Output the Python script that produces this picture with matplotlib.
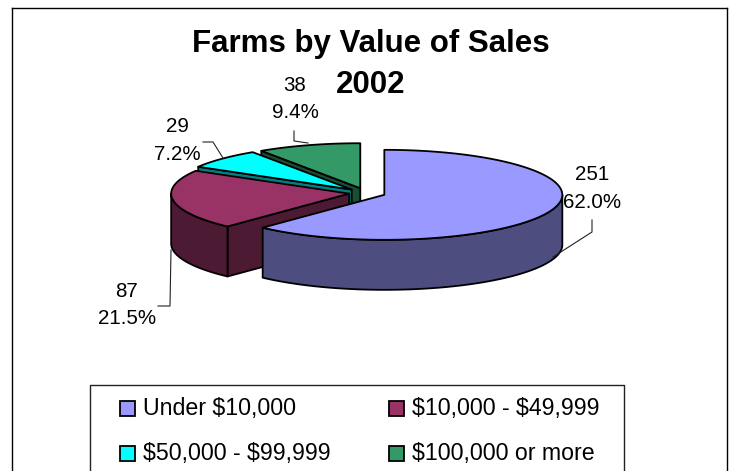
"""Farms by value of sales, 2002 -- exploded 3D pie drawn in pixel coordinates."""
import numpy as np
import matplotlib
matplotlib.use("Agg")
import matplotlib.pyplot as plt
from matplotlib.patches import Polygon, Rectangle

FONT = "Liberation Sans"

categories = ["Under $10,000", "$10,000 - $49,999", "$50,000 - $99,999", "$100,000 or more"]
counts = [251, 87, 29, 38]

top_colors = ["#9999FF", "#993366", "#00FFFF", "#339966"]
side_colors = ["#4D4D80", "#4D1A33", "#008080", "#1A4D33"]

# pie geometry, pixels
CX, CY = 366, 193
RX, RY = 178, 45
DEPTH = 50
explode = [19.7, 17, 19.7, 19.7]

# label anchor (centre of the two lines) and leader line for each slice
label_pos = [(592, 188.5), (127, 305), (177, 140.5), (295, 99)]
leaders = [
    [(592, 220), (592, 232), (553, 257)],
    [(171, 250), (170, 306), (158, 306)],
    [(203, 142), (213, 142), (223, 158)],
    [(294, 131), (294, 141), (308, 143)],
]


def ell(cx, cy, deg):
    # clockwise from 12 o'clock
    t = np.radians(deg)
    return np.column_stack((cx + RX * np.sin(t), cy - RY * np.cos(t)))


def draw_slice(ax, i, start, end, z):
    mid = np.radians((start + end) / 2)
    cx = CX + explode[i] * np.sin(mid)
    cy = CY - explode[i] * RY / RX * np.cos(mid)
    kw = dict(ec="black", lw=1.3, joinstyle="round")

    # cut wall at the slice start, faces the viewer on the left half only
    if np.sin(np.radians(start)) < -1e-6:
        p = ell(cx, cy, start)[0]
        wall = [(cx, cy), p, (p[0], p[1] + DEPTH), (cx, cy + DEPTH)]
        ax.add_patch(Polygon(wall, fc=side_colors[i], zorder=z, **kw))

    # outer rim, only the front half shows
    lo, hi = max(start, 90), min(end, 270)
    if hi > lo:
        rim = ell(cx, cy, np.linspace(lo, hi, 80))
        low = rim[::-1] + [0, DEPTH]
        ax.add_patch(Polygon(np.vstack((rim, low)), fc=side_colors[i], zorder=z, **kw))

    arc = ell(cx, cy, np.linspace(start, end, 120))
    top = np.vstack(([(cx, cy)], arc))
    ax.add_patch(Polygon(top, fc=top_colors[i], zorder=z, **kw))


fig = plt.figure(figsize=(7.32, 4.71), dpi=100, facecolor="white")
ax = fig.add_axes([0, 0, 1, 1])
ax.set_xlim(0, 732)
ax.set_ylim(471, 0)
ax.axis("off")

# chart frame runs off the bottom of the picture
ax.plot([11.5, 11.5], [471, 7.5], color="black", lw=1.0)
ax.plot([11.5, 726.5], [7.5, 7.5], color="black", lw=1.0)
ax.plot([726.5, 726.5], [7.5, 471], color="black", lw=1.0)

ax.text(371, 44, "Farms by Value of Sales", family=FONT, fontsize=22.5, fontweight="bold",
        ha="center", va="center")
ax.text(371, 85, "2002", family=FONT, fontsize=22.5, fontweight="bold",
        ha="center", va="center")

total = sum(counts)
shares = [c / total for c in counts]
edges = np.concatenate(([0], np.cumsum(shares) * 360))

# back slices first
for z, i in enumerate((3, 2, 1, 0)):
    draw_slice(ax, i, edges[i], edges[i + 1], z + 2)

for i, c in enumerate(counts):
    x, y = label_pos[i]
    ax.text(x, y, f"{c}\n{shares[i] * 100:.1f}%", family=FONT, fontsize=14.8,
            ha="center", va="center", linespacing=1.55, zorder=10)
    xs, ys = zip(*leaders[i])
    ax.plot(xs, ys, color="#222222", lw=0.8, zorder=9)

# legend, bottom is cut by the picture edge
ax.plot([90, 90, 624, 624], [471, 384.5, 384.5, 471], color="#222222", lw=1.0)
legend_x = [120, 389]
legend_y = [408, 453]
for i, name in enumerate(categories):
    lx = legend_x[i % 2]
    ly = legend_y[i // 2]
    ax.add_patch(Rectangle((lx, ly - 7.5), 15, 15, fc=top_colors[i], ec="black", lw=1.3))
    ax.text(lx + 23, ly + 0.5, name, family=FONT, fontsize=16.7, ha="left", va="center",
            parse_math=False)

fig.savefig("out.png", dpi=100, facecolor="white")
plt.close(fig)
